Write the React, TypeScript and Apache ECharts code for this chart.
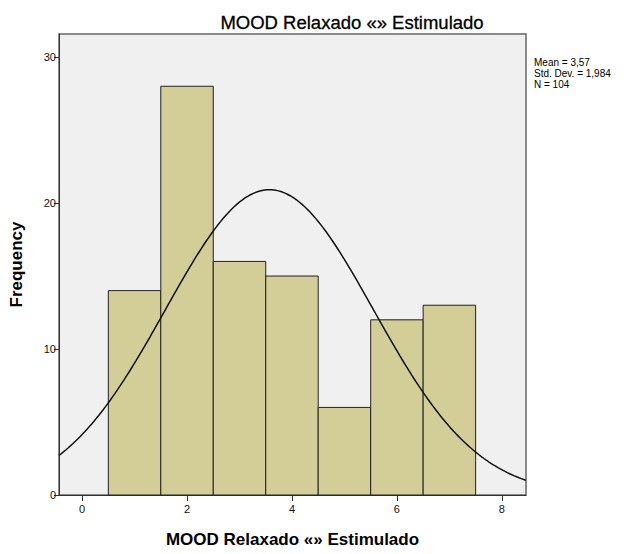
import React, { useEffect, useRef } from "react";
import * as echarts from "echarts";

const binCenters = [1, 2, 3, 4, 5, 6, 7];
const frequencies = [14, 28, 16, 15, 6, 12, 13];
const xTicks = [0, 2, 4, 6, 8];
const yTicks = [0, 10, 20, 30];
const statMean = 3.57;
const statSd = 1.984;
const statN = 104;
const binWidth = 1;
const titleText = "MOOD Relaxado «» Estimulado";

const X_MIN = -0.44;
const X_MAX = 8.46;

export default function App() {
  const ref = useRef<HTMLDivElement>(null);
  useEffect(() => {
    if (!ref.current) return;
    const chart = echarts.init(ref.current, null, { renderer: "svg" });
    const curve: [number, number][] = [];
    const steps = 200;
    for (let i = 0; i <= steps; i++) {
      const x = X_MIN + ((X_MAX - X_MIN) * i) / steps;
      const z = (x - statMean) / statSd;
      const y = (statN * binWidth) / (statSd * Math.sqrt(2 * Math.PI)) * Math.exp(-0.5 * z * z);
      curve.push([x, y]);
    }
    const font = "'Liberation Sans', Arial, sans-serif";
    chart.setOption({
      animation: false,
      textStyle: { fontFamily: font },
      title: {
        text: titleText,
        left: 347,
        top: 8,
        textAlign: "center",
        textStyle: { fontSize: 18.5, fontWeight: "normal", color: "#000", fontFamily: font, textBorderColor: "#000", textBorderWidth: 0.3 },
      },
      graphic: [
        {
          type: "text",
          left: 534,
          top: 57,
          style: {
            text: `Mean = ${statMean.toFixed(2).replace(".", ",")}\nStd. Dev. = ${statSd.toFixed(3).replace(".", ",")}\nN = ${statN}`,
            fontSize: 10,
            lineHeight: 11,
            fill: "#000",
            fontFamily: font,
          },
        },
      ],
      grid: {
        left: 58.5,
        right: 105,
        top: 34,
        bottom: 59,
        show: true,
        backgroundColor: "#f0f0f0",
        borderColor: "#666",
        borderWidth: 1.5,
      },
      xAxis: {
        type: "value",
        min: X_MIN,
        max: X_MAX,
        name: titleText,
        nameLocation: "middle",
        nameGap: 36,
        nameTextStyle: { fontSize: 17, fontWeight: "bold", color: "#000", fontFamily: font },
        axisLine: { show: true, onZero: false, lineStyle: { color: "#333", width: 1 } },
        axisTick: { show: true, length: 6, customValues: xTicks, lineStyle: { color: "#333" } },
        axisLabel: { customValues: xTicks, fontSize: 11, color: "#111", margin: 8 },
        splitLine: { show: false },
      },
      yAxis: {
        type: "value",
        min: 0,
        max: 31.58,
        name: "Frequency",
        nameLocation: "middle",
        nameGap: 34,
        nameTextStyle: { fontSize: 17, fontWeight: "bold", color: "#000", fontFamily: font },
        axisLine: { show: true, onZero: false, lineStyle: { color: "#333", width: 1 } },
        axisTick: { show: true, length: 5, customValues: yTicks, lineStyle: { color: "#333" } },
        axisLabel: { customValues: yTicks, fontSize: 11, color: "#111", margin: 3 },
        splitLine: { show: false },
      },
      series: [
        {
          type: "custom",
          data: binCenters.map((c, i) => [c, frequencies[i]]),
          renderItem: (params: any, api: any) => {
            const c = api.value(0);
            const v = api.value(1);
            const p0 = api.coord([c - binWidth / 2, 0]);
            const p1 = api.coord([c + binWidth / 2, v]);
            return {
              type: "rect",
              shape: { x: p0[0], y: p1[1], width: p1[0] - p0[0], height: p0[1] - p1[1] },
              style: { fill: "#d3ce97", stroke: "#222", lineWidth: 1 },
            };
          },
          z: 2,
        },
        {
          type: "line",
          data: curve,
          showSymbol: false,
          symbol: "none",
          lineStyle: { color: "#111", width: 1.5 },
          z: 3,
        },
      ],
    });
    return () => chart.dispose();
  }, []);
  return (
    <div
      ref={ref}
      style={{ position: "absolute", left: 0, top: 0, width: 631, height: 554 }}
    />
  );
}
